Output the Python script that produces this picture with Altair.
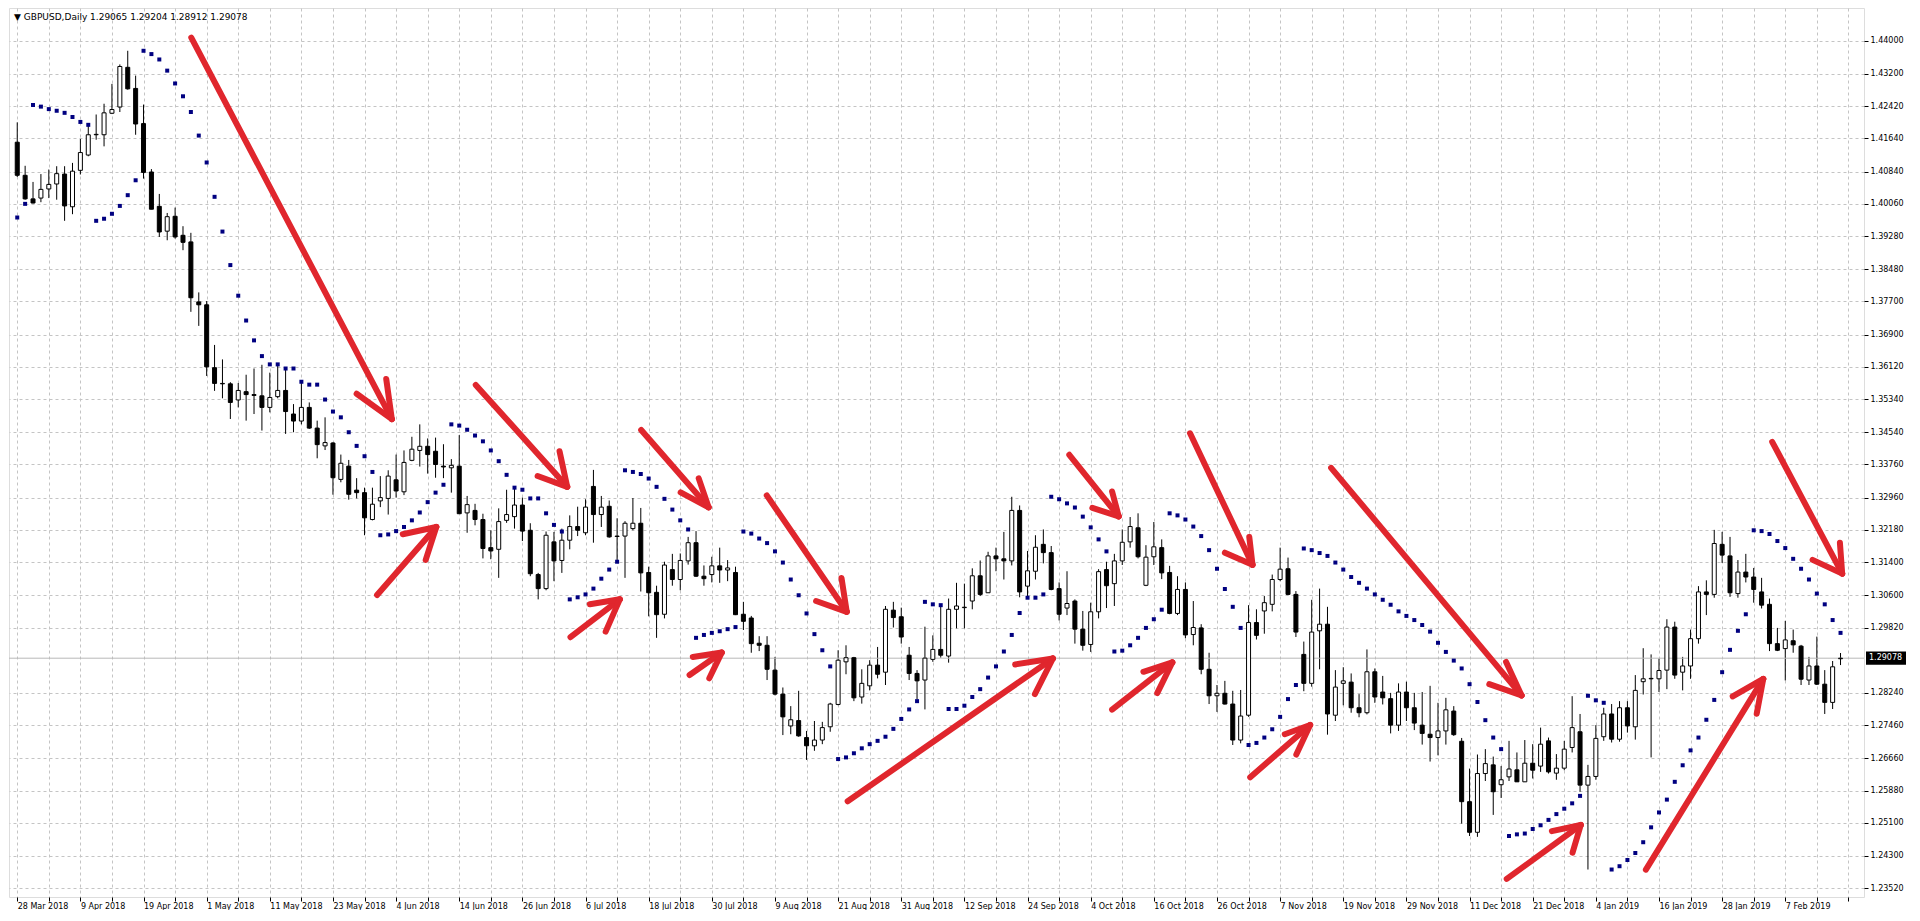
import altair as alt
import pandas as pd

# GBPUSD daily bars (bar 0 = 28 Mar 2018)
opens = [
    1.4155, 1.4075, 1.4018, 1.4020, 1.4042, 1.4054, 1.4078, 1.3999, 1.4087, 1.4124,
    1.4173, 1.4173, 1.4225, 1.4240, 1.4336, 1.4285, 1.4200, 1.4083, 1.4000, 1.3940,
    1.3976, 1.3930, 1.3914, 1.3769, 1.3762, 1.3610, 1.3572, 1.3571, 1.3532, 1.3552,
    1.3545, 1.3542, 1.3514, 1.3540, 1.3555, 1.3498, 1.3481, 1.3514, 1.3464, 1.3421,
    1.3428, 1.3340, 1.3372, 1.3314, 1.3308, 1.3243, 1.3288, 1.3294, 1.3339, 1.3310,
    1.3386, 1.3410, 1.3420, 1.3408, 1.3372, 1.3368, 1.3372, 1.3259, 1.3265, 1.3243,
    1.3175, 1.3171, 1.3241, 1.3250, 1.3278, 1.3217, 1.3110, 1.3076, 1.3189, 1.3144,
    1.3193, 1.3226, 1.3211, 1.3323, 1.3255, 1.3275, 1.3203, 1.3203, 1.3221, 1.3234,
    1.3115, 1.3067, 1.3014, 1.3122, 1.3098, 1.3143, 1.3187, 1.3106, 1.3110, 1.3131,
    1.3121, 1.3115, 1.3014, 1.3005, 1.2944, 1.2939, 1.2879, 1.2821, 1.2744, 1.2757,
    1.2716, 1.2696, 1.2710, 1.2742, 1.2796, 1.2899, 1.2909, 1.2814, 1.2841, 1.2891,
    1.2874, 1.3024, 1.3008, 1.2915, 1.2871, 1.2855, 1.2905, 1.2929, 1.2913, 1.3026,
    1.3030, 1.3046, 1.3107, 1.3066, 1.3155, 1.3148, 1.3143, 1.3265, 1.3082, 1.3118,
    1.3183, 1.3163, 1.3076, 1.3029, 1.3046, 1.2978, 1.2941, 1.3020, 1.3122, 1.3088,
    1.3143, 1.3189, 1.3223, 1.3084, 1.3153, 1.3175, 1.3115, 1.3016, 1.3074, 1.2965,
    1.2981, 1.2881, 1.2817, 1.2823, 1.2797, 1.2710, 1.2770, 1.2994, 1.3022, 1.3038,
    1.3098, 1.3124, 1.3062, 1.2917, 1.2847, 1.2974, 1.2990, 1.2770, 1.2847, 1.2850,
    1.2788, 1.2776, 1.2875, 1.2826, 1.2810, 1.2746, 1.2826, 1.2788, 1.2746, 1.2724,
    1.2716, 1.2732, 1.2780, 1.2707, 1.2561, 1.2487, 1.2629, 1.2650, 1.2602, 1.2621,
    1.2638, 1.2609, 1.2654, 1.2647, 1.2708, 1.2630, 1.2642, 1.2692, 1.2730, 1.2601,
    1.2622, 1.2718, 1.2773, 1.2712, 1.2788, 1.2742, 1.2851, 1.2858, 1.2858, 1.2879,
    1.2983, 1.2874, 1.2889, 1.2955, 1.3068, 1.3062, 1.3183, 1.3155, 1.3064, 1.3116,
    1.3104, 1.3068, 1.3038, 1.2943, 1.2931, 1.2950, 1.2937, 1.2855, 1.2889, 1.2845,
    1.2801, 1.29065,
]
highs = [
    1.4203, 1.4098, 1.4059, 1.4078, 1.4089, 1.4097, 1.4097, 1.4105, 1.4163, 1.4195,
    1.4222, 1.4248, 1.4296, 1.4343, 1.4376, 1.4316, 1.4246, 1.4090, 1.4030, 1.3984,
    1.3997, 1.3952, 1.3936, 1.3792, 1.3771, 1.3665, 1.3630, 1.3575, 1.3573, 1.3593,
    1.3608, 1.3617, 1.3598, 1.3614, 1.3609, 1.3522, 1.3578, 1.3526, 1.3482, 1.3490,
    1.3430, 1.3400, 1.3387, 1.3343, 1.3320, 1.3320, 1.3348, 1.3362, 1.3400, 1.3410,
    1.3443, 1.3473, 1.3439, 1.3441, 1.3425, 1.3389, 1.3447, 1.3300, 1.3281, 1.3257,
    1.3217, 1.3270, 1.3315, 1.3323, 1.3296, 1.3234, 1.3114, 1.3214, 1.3213, 1.3221,
    1.3253, 1.3274, 1.3292, 1.3363, 1.3300, 1.3289, 1.3246, 1.3239, 1.3295, 1.3271,
    1.3129, 1.3083, 1.3141, 1.3160, 1.3161, 1.3201, 1.3215, 1.3132, 1.3153, 1.3175,
    1.3145, 1.3129, 1.3044, 1.3010, 1.2961, 1.2961, 1.2911, 1.2837, 1.2792, 1.2829,
    1.2732, 1.2756, 1.2754, 1.2800, 1.2927, 1.2939, 1.2911, 1.2881, 1.2903, 1.2935,
    1.3034, 1.3044, 1.3030, 1.2935, 1.2879, 1.2984, 1.2963, 1.3034, 1.3052, 1.3090,
    1.3088, 1.3125, 1.3144, 1.3165, 1.3175, 1.3213, 1.3298, 1.3277, 1.3167, 1.3205,
    1.3219, 1.3179, 1.3091, 1.3118, 1.3050, 1.3022, 1.3042, 1.3123, 1.3141, 1.3160,
    1.3219, 1.3249, 1.3258, 1.3181, 1.3237, 1.3195, 1.3131, 1.3106, 1.3091, 1.3046,
    1.2990, 1.2921, 1.2843, 1.2853, 1.2829, 1.2831, 1.3036, 1.3026, 1.3058, 1.3110,
    1.3175, 1.3151, 1.3070, 1.2948, 1.3049, 1.3076, 1.3032, 1.2879, 1.2886, 1.2871,
    1.2821, 1.2929, 1.2883, 1.2865, 1.2824, 1.2847, 1.2851, 1.2824, 1.2826, 1.2841,
    1.2800, 1.2812, 1.2792, 1.2715, 1.2641, 1.2675, 1.2688, 1.2670, 1.2647, 1.2708,
    1.2680, 1.2710, 1.2700, 1.2740, 1.2716, 1.2676, 1.2708, 1.2816, 1.2773, 1.2650,
    1.2746, 1.2788, 1.2797, 1.2804, 1.2804, 1.2867, 1.2932, 1.2917, 1.2907, 1.3002,
    1.2996, 1.2911, 1.2977, 1.3082, 1.3096, 1.3218, 1.3213, 1.3201, 1.3145, 1.3160,
    1.3126, 1.3102, 1.3052, 1.2981, 1.2998, 1.2977, 1.2940, 1.2911, 1.2960, 1.2879,
    1.2901, 1.29204,
]
lows = [
    1.4071, 1.4016, 1.4007, 1.4010, 1.4020, 1.4016, 1.3965, 1.3981, 1.4077, 1.4121,
    1.4161, 1.4145, 1.4223, 1.4228, 1.4282, 1.4173, 1.4067, 1.3993, 1.3926, 1.3918,
    1.3922, 1.3894, 1.3745, 1.3711, 1.3590, 1.3554, 1.3536, 1.3486, 1.3514, 1.3482,
    1.3498, 1.3458, 1.3502, 1.3536, 1.3450, 1.3454, 1.3473, 1.3462, 1.3391, 1.3411,
    1.3303, 1.3333, 1.3291, 1.3294, 1.3205, 1.3241, 1.3273, 1.3255, 1.3296, 1.3302,
    1.3384, 1.3371, 1.3354, 1.3344, 1.3343, 1.3308, 1.3257, 1.3211, 1.3229, 1.3149,
    1.3147, 1.3102, 1.3235, 1.3221, 1.3191, 1.3106, 1.3050, 1.3072, 1.3094, 1.3114,
    1.3171, 1.3203, 1.3205, 1.3187, 1.3225, 1.3199, 1.3141, 1.3102, 1.3217, 1.3069,
    1.3009, 1.2957, 1.3004, 1.3083, 1.3072, 1.3134, 1.3104, 1.3083, 1.3091, 1.3090,
    1.3094, 1.3012, 1.2976, 1.2921, 1.2925, 1.2855, 1.2818, 1.2722, 1.2724, 1.2718,
    1.2662, 1.2684, 1.2700, 1.2730, 1.2794, 1.2869, 1.2804, 1.2798, 1.2830, 1.2859,
    1.2843, 1.2982, 1.2943, 1.2855, 1.2808, 1.2784, 1.2899, 1.2909, 1.2897, 1.2980,
    1.2980, 1.3026, 1.3058, 1.3066, 1.3118, 1.3098, 1.3132, 1.3055, 1.3055, 1.3098,
    1.3137, 1.3072, 1.2999, 1.3012, 1.2943, 1.2926, 1.2923, 1.3004, 1.3029, 1.3034,
    1.3133, 1.3175, 1.3149, 1.3082, 1.3133, 1.3099, 1.3014, 1.3012, 1.2956, 1.2939,
    1.2869, 1.2797, 1.2778, 1.2796, 1.2698, 1.2702, 1.2766, 1.2953, 1.2967, 1.3021,
    1.3094, 1.3060, 1.2959, 1.2828, 1.2839, 1.2881, 1.2723, 1.2756, 1.2794, 1.2776,
    1.2765, 1.2772, 1.2800, 1.2796, 1.2726, 1.2732, 1.2756, 1.2734, 1.2699, 1.2658,
    1.2673, 1.2699, 1.2720, 1.2508, 1.2478, 1.2476, 1.2611, 1.2529, 1.2570, 1.2611,
    1.2609, 1.2609, 1.2617, 1.2633, 1.2629, 1.2614, 1.2637, 1.2680, 1.2585, 1.2397,
    1.2614, 1.2708, 1.2704, 1.2706, 1.2728, 1.2711, 1.2820, 1.2668, 1.2826, 1.2833,
    1.2858, 1.2830, 1.2858, 1.2943, 1.3012, 1.3054, 1.3138, 1.3056, 1.3054, 1.3091,
    1.3042, 1.3028, 1.2925, 1.2925, 1.2854, 1.2921, 1.2843, 1.2843, 1.2843, 1.2773,
    1.2785, 1.28912,
]
closes = [
    1.4075, 1.4018, 1.4008, 1.4041, 1.4053, 1.4079, 1.4001, 1.4085, 1.4130, 1.4173,
    1.4174, 1.4226, 1.4234, 1.4338, 1.4284, 1.4199, 1.4082, 1.3993, 1.3938, 1.3975,
    1.3926, 1.3913, 1.3779, 1.3762, 1.3612, 1.3572, 1.3571, 1.3526, 1.3555, 1.3545,
    1.3543, 1.3514, 1.3538, 1.3555, 1.3504, 1.3481, 1.3514, 1.3464, 1.3424, 1.3429,
    1.3344, 1.3379, 1.3304, 1.3308, 1.3247, 1.3280, 1.3296, 1.3348, 1.3312, 1.3381,
    1.3413, 1.3420, 1.3400, 1.3376, 1.3370, 1.3374, 1.3257, 1.3279, 1.3243, 1.3173,
    1.3167, 1.3238, 1.3255, 1.3278, 1.3215, 1.3112, 1.3076, 1.3205, 1.3143, 1.3193,
    1.3226, 1.3217, 1.3273, 1.3255, 1.3273, 1.3201, 1.3202, 1.3234, 1.3234, 1.3114,
    1.3066, 1.3013, 1.3133, 1.3098, 1.3144, 1.3187, 1.3106, 1.3100, 1.3131, 1.3121,
    1.3126, 1.3013, 1.2997, 1.2943, 1.2939, 1.2881, 1.2821, 1.2766, 1.2759, 1.2720,
    1.2696, 1.2710, 1.2740, 1.2797, 1.2903, 1.2909, 1.2812, 1.2847, 1.2891, 1.2869,
    1.3026, 1.3006, 1.2959, 1.2871, 1.2853, 1.2908, 1.2929, 1.2915, 1.3026, 1.3034,
    1.3031, 1.3107, 1.3062, 1.3155, 1.3148, 1.3143, 1.3265, 1.3068, 1.3119, 1.3176,
    1.3163, 1.3074, 1.3014, 1.3040, 1.2978, 1.2939, 1.3020, 1.3117, 1.3083, 1.3143,
    1.3188, 1.3226, 1.3153, 1.3152, 1.3177, 1.3114, 1.3016, 1.3074, 1.2964, 1.2982,
    1.2881, 1.2817, 1.2823, 1.2797, 1.2710, 1.2768, 1.2994, 1.2963, 1.3042, 1.3098,
    1.3123, 1.3062, 1.2971, 1.2847, 1.2971, 1.2990, 1.2773, 1.2838, 1.2853, 1.2788,
    1.2776, 1.2875, 1.2814, 1.2812, 1.2746, 1.2826, 1.2788, 1.2751, 1.2726, 1.2716,
    1.2732, 1.2783, 1.2723, 1.2561, 1.2487, 1.2629, 1.2653, 1.2585, 1.2614, 1.2640,
    1.2609, 1.2654, 1.2637, 1.2700, 1.2633, 1.2642, 1.2688, 1.2740, 1.2601, 1.2622,
    1.2714, 1.2773, 1.2712, 1.2788, 1.2744, 1.2830, 1.2858, 1.2859, 1.2878, 1.2983,
    1.2867, 1.2889, 1.2955, 1.3068, 1.3062, 1.3185, 1.3157, 1.3066, 1.3116, 1.3104,
    1.3074, 1.3036, 1.2943, 1.2927, 1.2952, 1.2940, 1.2857, 1.2889, 1.2845, 1.2801,
    1.2887, 1.29078,
]
# Parabolic SAR dots
sar = [
    1.3973, 1.4006, 1.4245, 1.4241, 1.4235, 1.4231, 1.4226, 1.4216, 1.4204, 1.4197,
    1.3965, 1.3970, 1.3982, 1.4001, 1.4027, 1.4063, 1.4376, 1.4368, 1.4355, 1.4328,
    1.4297, 1.4266, 1.4228, 1.4171, 1.4106, 1.4023, 1.3939, 1.3858, 1.3784, 1.3724,
    1.3676, 1.3638, 1.3618, 1.3618, 1.3608, 1.3608, 1.3576, 1.3569, 1.3569, 1.3533,
    1.3504, 1.3490, 1.3454, 1.3421, 1.3396, 1.3358, 1.3205, 1.3207, 1.3215, 1.3225,
    1.3241, 1.3260, 1.3285, 1.3308, 1.3327, 1.3473, 1.3470, 1.3460, 1.3446, 1.3432,
    1.3410, 1.3384, 1.3351, 1.3320, 1.3315, 1.3294, 1.3294, 1.3258, 1.3230, 1.3214,
    1.3050, 1.3055, 1.3062, 1.3076, 1.3100, 1.3122, 1.3141, 1.3362, 1.3358, 1.3353,
    1.3342, 1.3322, 1.3293, 1.3267, 1.3241, 1.3219, 1.2957, 1.2964, 1.2969, 1.2973,
    1.2978, 1.2983, 1.3214, 1.3209, 1.3197, 1.3186, 1.3166, 1.3139, 1.3098, 1.3060,
    1.3016, 1.2966, 1.2927, 1.2888, 1.2664, 1.2668, 1.2678, 1.2690, 1.2700, 1.2708,
    1.2718, 1.2737, 1.2761, 1.2784, 1.2804, 1.3044, 1.3038, 1.3036, 1.2785, 1.2785,
    1.2793, 1.2814, 1.2833, 1.2861, 1.2888, 1.2924, 1.2964, 1.3017, 1.3054, 1.3054,
    1.3062, 1.3298, 1.3292, 1.3282, 1.3272, 1.3250, 1.3224, 1.3195, 1.3166, 1.2924,
    1.2926, 1.2939, 1.2957, 1.2981, 1.3002, 1.3025, 1.3258, 1.3253, 1.3243, 1.3226,
    1.3203, 1.3169, 1.3124, 1.3075, 1.3032, 1.2981, 1.2698, 1.2703, 1.2716, 1.2736,
    1.2766, 1.2809, 1.2843, 1.3173, 1.3169, 1.3162, 1.3155, 1.3139, 1.3122, 1.3104,
    1.3090, 1.3076, 1.3062, 1.3049, 1.3037, 1.3021, 1.3010, 1.3000, 1.2988, 1.2972,
    1.2945, 1.2923, 1.2902, 1.2883, 1.2845, 1.2802, 1.2758, 1.2716, 1.2688, 1.2478,
    1.2482, 1.2484, 1.2495, 1.2504, 1.2517, 1.2531, 1.2544, 1.2557, 1.2575, 1.2817,
    1.2806, 1.2800, 1.2397, 1.2405, 1.2420, 1.2437, 1.2463, 1.2499, 1.2535, 1.2566,
    1.2609, 1.2649, 1.2685, 1.2716, 1.2759, 1.2807, 1.2874, 1.2928, 1.2974, 1.3014,
    1.3217, 1.3215, 1.3208, 1.3191, 1.3174, 1.3148, 1.3124, 1.3098, 1.3064, 1.3038,
    1.3000, 1.2969,
]

date_labels = [
    "28 Mar 2018", "9 Apr 2018", "19 Apr 2018", "1 May 2018", "11 May 2018",
    "23 May 2018", "4 Jun 2018", "14 Jun 2018", "26 Jun 2018", "6 Jul 2018",
    "18 Jul 2018", "30 Jul 2018", "9 Aug 2018", "21 Aug 2018", "31 Aug 2018",
    "12 Sep 2018", "24 Sep 2018", "4 Oct 2018", "16 Oct 2018", "26 Oct 2018",
    "7 Nov 2018", "19 Nov 2018", "29 Nov 2018", "11 Dec 2018", "21 Dec 2018",
    "4 Jan 2019", "16 Jan 2019", "28 Jan 2019", "7 Feb 2019",
]
price_ticks = [
    1.44, 1.432, 1.4242, 1.4164, 1.4084, 1.4006, 1.3928, 1.3848, 1.377, 1.369,
    1.3612, 1.3534, 1.3454, 1.3376, 1.3296, 1.3218, 1.314, 1.306, 1.2982,
    1.2824, 1.2746, 1.2666, 1.2588, 1.251, 1.243, 1.2352,
]
last_price = 1.29078
header = "\u25bc GBPUSD,Daily  1.29065 1.29204 1.28912 1.29078"

# hand-drawn red arrows: start, tip, wing 1, wing 2 as (bar, price)
arrows = [
    (22.05, 1.44079, 47.46, 1.34856, 43.00, 1.35469, 46.75, 1.35827),
    (45.59, 1.30604, 53.09, 1.32250, 48.84, 1.32075, 51.75, 1.31455),
    (58.09, 1.35684, 69.68, 1.33220, 65.93, 1.33482, 68.71, 1.34079),
    (70.09, 1.29585, 76.34, 1.30501, 72.55, 1.30382, 74.55, 1.29721),
    (79.05, 1.34594, 87.59, 1.32726, 84.05, 1.33084, 86.34, 1.33425),
    (85.18, 1.28672, 89.25, 1.29214, 85.59, 1.29109, 87.68, 1.28593),
    (94.96, 1.33013, 105.09, 1.30199, 101.21, 1.30461, 104.43, 1.31017),
    (105.21, 1.25620, 131.21, 1.29071, 126.43, 1.28927, 128.93, 1.28212),
    (133.29, 1.33995, 139.55, 1.32505, 136.21, 1.32710, 138.71, 1.33108),
    (138.71, 1.27837, 146.34, 1.28975, 142.68, 1.28750, 144.43, 1.28235),
    (148.59, 1.34514, 156.50, 1.31334, 153.00, 1.31629, 156.09, 1.32011),
    (156.21, 1.26199, 163.80, 1.27463, 160.59, 1.27241, 162.05, 1.26748),
    (166.46, 1.33680, 190.59, 1.28178, 186.50, 1.28450, 188.63, 1.28989),
    (188.71, 1.23743, 198.09, 1.25047, 194.43, 1.24897, 197.05, 1.24380),
    (206.34, 1.23967, 221.21, 1.28577, 217.34, 1.28155, 220.38, 1.27735),
    (222.34, 1.34309, 231.21, 1.31122, 227.46, 1.31455, 230.92, 1.31868),
]

candles = pd.DataFrame({
    "idx": list(range(len(opens))),
    "open": opens, "high": highs, "low": lows, "close": closes, "sar": sar,
})
candles["up"] = candles["close"] >= candles["open"]

segs = []
for x0, y0, xt, yt, xa, ya, xb, yb in arrows:
    segs.append({"x": x0, "y": y0, "x2": xt, "y2": yt})
    segs.append({"x": xt, "y": yt, "x2": xa, "y2": ya})
    segs.append({"x": xt, "y": yt, "x2": xb, "y2": yb})
arrow_df = pd.DataFrame(segs)

W, H = 1855, 889
GRID = "#c4c4c4"
x_scale = alt.Scale(domain=[-0.41, 233.34], nice=False, zero=False)
y_scale = alt.Scale(domain=[1.23306, 1.44794], nice=False, zero=False)

label_js = "[" + ",".join(f"'{s}'" for s in date_labels) + "]"
x_axis = alt.Axis(
    values=list(range(0, 233, 4)),
    labelExpr=f"(datum.value % 8 == 0 && datum.value <= 224) ? {label_js}[datum.value / 8] : ''",
    grid=True, gridColor=GRID, gridDash=[3, 3], gridWidth=1,
    domain=False, ticks=True, tickColor="black", tickSize=4,
    labelAlign="left", labelBaseline="top", labelPadding=1, labelFontSize=8,
    labelColor="black", labelOverlap=False, labelFlush=False, title=None,
)
y_axis = alt.Axis(
    orient="right", values=price_ticks, format=".5f",
    grid=True, gridColor=GRID, gridDash=[3, 3], gridWidth=1,
    domain=False, tickColor="black", tickSize=4,
    labelPadding=2, labelFontSize=8, labelColor="black", labelOverlap=False,
    title=None,
)


def xenc(field):
    return alt.X(field, type="quantitative", scale=x_scale, axis=x_axis)


def yenc(field):
    return alt.Y(field, type="quantitative", scale=y_scale, axis=y_axis)


wicks = alt.Chart(candles).mark_rule(color="black", strokeWidth=1).encode(
    x=xenc("idx"), y=yenc("low"), y2="high:Q",
)

price_line = alt.Chart(pd.DataFrame({"p": [last_price]})).mark_rule(
    color="#b8b8b8", strokeWidth=1
).encode(y=yenc("p"))

bodies = alt.Chart(candles).mark_bar(
    size=4, stroke="black", strokeWidth=1, orient="vertical"
).encode(
    x=xenc("idx"), y=yenc("open"), y2="close:Q",
    fill=alt.condition("datum.up", alt.value("white"), alt.value("black")),
)

dots = alt.Chart(candles).mark_square(size=16, color="#000080", opacity=1).encode(
    x=xenc("idx"), y=yenc("sar"),
)

red_arrows = alt.Chart(arrow_df).mark_rule(
    color="#e0262d", strokeWidth=6, strokeCap="round"
).encode(
    x=xenc("x"), y=yenc("y"), x2="x2:Q", y2="y2:Q",
)

box_df = pd.DataFrame({
    "lo": [last_price - 0.0016], "hi": [last_price + 0.0016],
    "p": [last_price], "t": [f"{last_price:.5f}"],
})
price_box = alt.Chart(box_df).mark_rect(color="black").encode(
    x=alt.value(W + 2), x2=alt.value(W + 42),
    y=yenc("lo"), y2="hi:Q",
)
price_text = alt.Chart(box_df).mark_text(
    color="white", align="left", baseline="middle", fontSize=8
).encode(x=alt.value(W + 5), y=yenc("p"), text="t:N")

head = alt.Chart(pd.DataFrame({"t": [header]})).mark_text(
    align="left", baseline="middle", fontSize=9, color="black"
).encode(x=alt.value(5), y=alt.value(9), text="t:N")

chart = alt.layer(
    wicks, price_line, bodies, dots, red_arrows, price_box, price_text, head
).properties(
    width=W, height=H, padding={"left": 0, "top": 0, "right": 0, "bottom": 0}
).configure_view(
    stroke="black", strokeWidth=1
).configure(
    font="DejaVu Sans", background="white"
)

chart.save("out.html", embed_options={"renderer": "svg", "actions": False})
